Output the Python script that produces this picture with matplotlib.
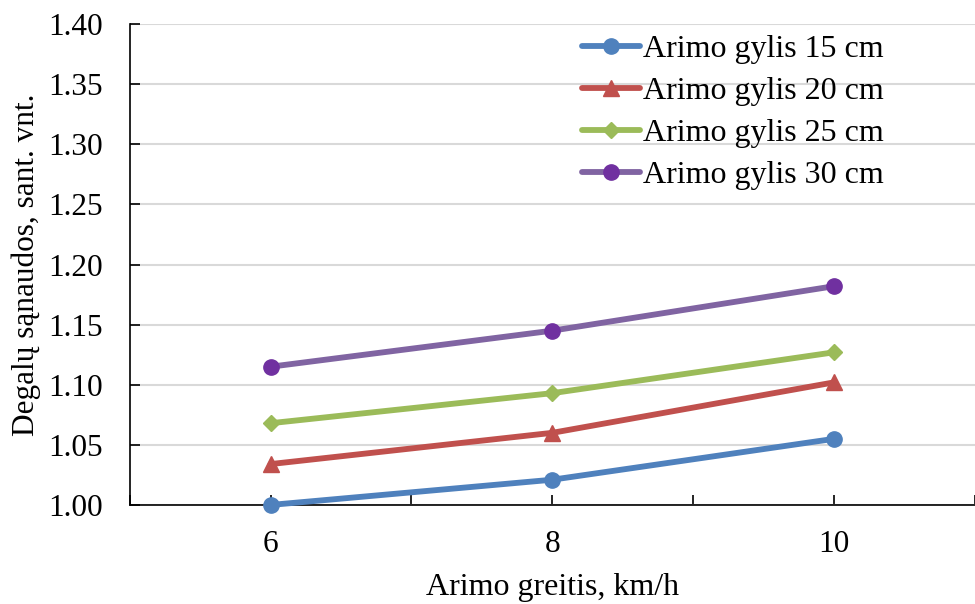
import matplotlib
matplotlib.use("Agg")
import matplotlib.pyplot as plt
import numpy as np

plt.rcParams['font.family'] = ['Liberation Serif', 'DejaVu Serif']

speed = [6, 8, 10]
depth_labels = ["Arimo gylis 15 cm", "Arimo gylis 20 cm", "Arimo gylis 25 cm", "Arimo gylis 30 cm"]
fuel_15 = [1.000, 1.021, 1.055]
fuel_20 = [1.034, 1.060, 1.102]
fuel_25 = [1.068, 1.093, 1.127]
fuel_30 = [1.115, 1.145, 1.182]

series = [fuel_15, fuel_20, fuel_25, fuel_30]
line_colors = ["#4F81BD", "#C0504D", "#9BBB59", "#8064A2"]
marker_colors = ["#4F81BD", "#C0504D", "#9BBB59", "#7030A0"]
markers = ["o", "^", "D", "o"]
msizes = [11, 11, 8.5, 11]

fig = plt.figure(figsize=(9.75, 6.04), dpi=100)
ax = fig.add_axes([0.133, 0.164, 0.867, 0.796])

for vals, lab, lc, mc, m, ms in zip(series, depth_labels, line_colors, marker_colors, markers, msizes):
    ax.plot(speed, vals, color=lc, lw=4.2, marker=m, markersize=ms,
            markerfacecolor=mc, markeredgecolor=mc, label=lab, zorder=3,
            solid_capstyle='round', clip_on=False)

ax.set_xlim(5, 11)
ax.set_ylim(1.00, 1.40)
ax.set_xticks(np.arange(5, 12, 1))
ax.set_xticklabels(["" if t not in speed else str(t) for t in range(5, 12)])
yt = np.round(np.arange(1.00, 1.401, 0.05), 2)
ax.set_yticks(yt)
ax.set_yticklabels([f"{v:.2f}" for v in yt])
ax.tick_params(axis='both', direction='in', length=7, width=1.2, labelsize=22.5, color='black')
ax.tick_params(axis='x', pad=18)
ax.tick_params(axis='y', pad=19)

ax.grid(axis='y', color='#D9D9D9', lw=1.5, zorder=0)
ax.set_axisbelow(True)
for s in ['top', 'right']:
    ax.spines[s].set_visible(False)
for s in ['left', 'bottom']:
    ax.spines[s].set_linewidth(1.2)

ax.set_xlabel("Arimo greitis, km/h", fontsize=23, labelpad=10)
ax.set_ylabel("Degalų sąnaudos, sant. vnt.", fontsize=22.5)
ax.yaxis.set_label_coords(-0.105, 0.5)

leg = ax.legend(loc='upper left', bbox_to_anchor=(0.597, 0.943), bbox_transform=fig.transFigure,
                frameon=False, fontsize=23, handlelength=1.8, handletextpad=0.1,
                labelspacing=0.4, borderaxespad=0, borderpad=0)

fig.savefig("out.png", dpi=100)
